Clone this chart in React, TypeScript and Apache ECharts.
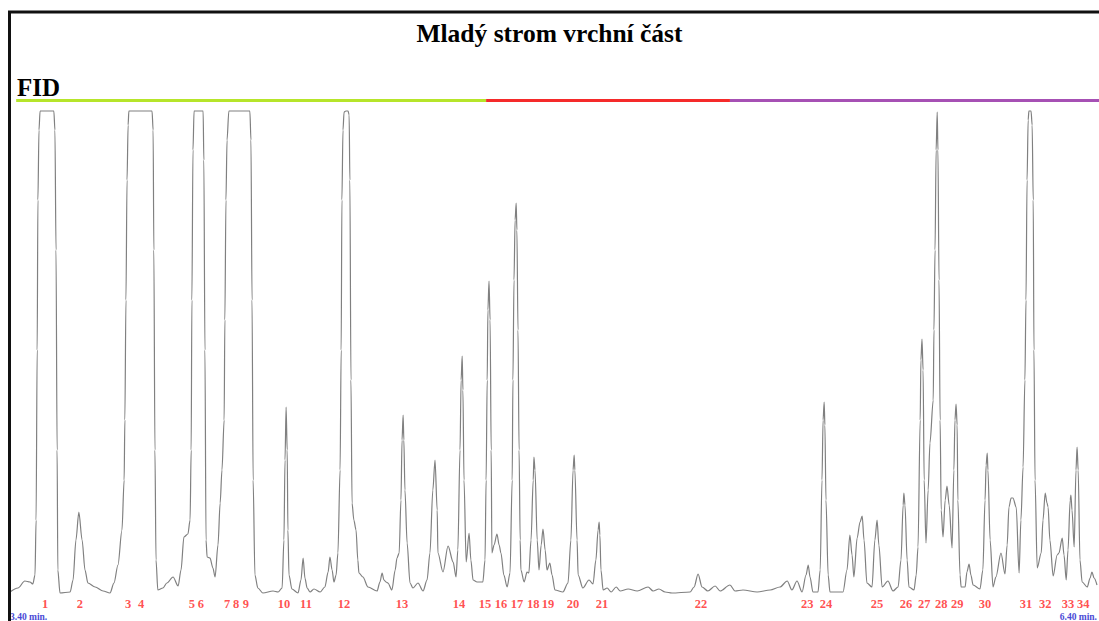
import React, { useEffect, useRef } from "react";
import * as echarts from "echarts";

// Retention time (min) of the FID trace
const traceTime = [
  3.400,3.422,3.441,3.455,3.463,3.469,3.472,3.475,3.477,3.480,
  3.483,3.521,3.524,3.527,3.530,3.532,3.538,3.566,3.574,3.582,
  3.590,3.599,3.607,3.615,3.635,3.657,3.676,3.687,3.698,3.709,
  3.715,3.717,3.720,3.723,3.726,3.728,3.792,3.795,3.797,3.800,
  3.803,3.808,3.822,3.833,3.850,3.864,3.872,3.880,3.891,3.897,
  3.900,3.902,3.905,3.908,3.933,3.935,3.938,3.941,3.944,3.952,
  3.960,3.966,3.974,3.980,3.985,3.991,3.993,3.996,3.999,4.004,
  4.062,4.065,4.068,4.071,4.076,4.084,4.098,4.126,4.140,4.151,
  4.156,4.159,4.162,4.165,4.167,4.170,4.178,4.195,4.203,4.209,
  4.214,4.220,4.228,4.239,4.256,4.269,4.278,4.283,4.289,4.294,
  4.300,4.305,4.311,4.314,4.316,4.319,4.322,4.327,4.333,4.336,
  4.338,4.341,4.344,4.349,4.355,4.360,4.363,4.374,4.388,4.413,
  4.421,4.427,4.432,4.438,4.443,4.454,4.463,4.468,4.474,4.479,
  4.482,4.485,4.487,4.490,4.496,4.504,4.512,4.526,4.540,4.551,
  4.559,4.567,4.573,4.579,4.581,4.595,4.609,4.623,4.631,4.636,
  4.642,4.645,4.648,4.650,4.653,4.659,4.667,4.672,4.678,4.689,
  4.705,4.711,4.714,4.717,4.719,4.722,4.725,4.728,4.730,4.736,
  4.744,4.750,4.755,4.763,4.772,4.780,4.786,4.788,4.791,4.794,
  4.797,4.799,4.802,4.805,4.808,4.810,4.819,4.827,4.832,4.838,
  4.844,4.846,4.849,4.855,4.860,4.866,4.871,4.877,4.882,4.890,
  4.896,4.904,4.926,4.940,4.948,4.954,4.957,4.959,4.965,4.968,
  4.981,4.998,5.009,5.017,5.023,5.026,5.028,5.031,5.037,5.048,
  5.059,5.073,5.084,5.106,5.131,5.161,5.175,5.191,5.208,5.227,
  5.277,5.288,5.299,5.310,5.326,5.346,5.360,5.387,5.401,5.423,
  5.462,5.498,5.525,5.545,5.558,5.572,5.586,5.597,5.603,5.608,
  5.616,5.630,5.636,5.641,5.644,5.647,5.649,5.652,5.658,5.663,
  5.699,5.710,5.718,5.724,5.729,5.738,5.746,5.752,5.757,5.765,
  5.779,5.787,5.793,5.798,5.807,5.823,5.837,5.851,5.859,5.865,
  5.867,5.870,5.876,5.881,5.895,5.901,5.906,5.912,5.914,5.917,
  5.920,5.923,5.928,5.934,5.939,5.948,5.950,5.953,5.956,5.959,
  5.961,5.964,5.967,5.970,5.975,5.981,5.986,5.992,6.000,6.005,
  6.008,6.011,6.014,6.016,6.022,6.025,6.036,6.041,6.047,6.052,
  6.058,6.077,6.085,6.091,6.094,6.097,6.099,6.105,6.113,6.121,
  6.135,6.146,6.152,6.157,6.163,6.168,6.177,6.185,6.190,6.196,
  6.201,6.204,6.207,6.210,6.212,6.218,6.221,6.224,6.226,6.229,
  6.235,6.246,6.251,6.257,6.262,6.265,6.270,6.279,6.290,6.295,
  6.304,6.309,6.315,6.320,6.326,6.328,6.331,6.337,6.342,6.345,
  6.348,6.353,6.359,6.373,6.381,6.386,6.392,6.400,
];

// Detector signal (arbitrary units, 482 = saturation)
const traceSignal = [
  1,5,12,11,9,18,73,243,393,463,
  482,482,463,343,143,23,0,1,13,53,
  81,53,23,10,6,2,0,10,28,63,
  113,173,293,413,468,482,482,463,343,143,
  33,3,5,10,16,7,23,56,59,73,
  143,293,443,482,482,433,243,53,36,35,
  25,16,48,90,123,173,273,393,453,482,
  482,453,293,113,18,5,0,2,1,5,
  53,133,186,143,63,18,4,0,13,35,
  15,5,1,4,1,6,21,36,23,11,
  18,40,123,243,393,463,481,482,482,478,
  413,213,90,73,63,33,20,16,6,2,
  11,20,13,11,10,3,23,35,40,93,
  153,178,153,103,50,10,5,10,2,13,
  40,103,133,83,40,21,47,31,16,43,
  143,213,237,203,113,31,60,33,13,11,
  11,33,113,213,283,312,273,143,40,48,
  59,48,40,18,6,20,113,213,313,373,
  390,363,263,143,53,23,11,21,20,53,
  113,136,123,53,23,48,64,43,23,30,
  18,3,1,10,53,123,138,123,53,18,
  5,13,9,33,63,71,58,23,3,5,
  1,6,2,4,2,6,2,4,1,0,
  1,6,19,6,2,7,2,8,2,3,
  1,3,6,12,3,12,1,18,28,16,
  1,1,23,113,173,191,168,93,18,1,
  1,23,58,38,16,55,71,77,53,10,
  6,53,73,48,6,12,2,6,33,88,
  100,88,33,6,3,18,46,173,233,254,
  223,113,50,103,150,193,263,343,443,481,
  443,313,173,83,56,93,107,88,45,123,
  173,189,168,93,18,6,6,21,29,18,
  8,4,23,93,128,140,123,53,6,16,
  40,19,48,86,95,95,86,20,73,126,
  213,293,413,473,482,482,468,393,243,113,
  25,40,73,100,90,86,53,17,38,40,
  55,38,13,43,93,98,83,46,123,146,
  123,33,11,6,15,21,15,8,
];

const peakNumbers = [
  "1","2","3","4","5","6","7","8","9","10","11","12","13","14","15","16","17",
  "18","19","20","21","22","23","24","25","26","27","28","29","30","31","32","33","34",
];
const peakTimes = [
  3.497,3.593,3.726,3.762,3.902,3.927,3.999,4.024,4.051,4.156,4.217,4.322,
  4.482,4.639,4.711,4.755,4.799,4.844,4.885,4.954,5.034,5.307,5.600,5.652,
  5.793,5.873,5.923,5.970,6.014,6.091,6.204,6.257,6.320,6.362,
];

// Time program segments shown as the coloured band at the top
const segmentBounds = [3.417, 4.714, 5.387, 6.406];
const segmentColors = ["#b6e52a", "#f52a2a", "#a650b4"];

const axisEndTimes = [3.4, 6.4];

const TITLE = "Mladý strom vrchní část";
const DETECTOR = "FID";

const SERIF = "'Liberation Serif', 'Times New Roman', serif";
const LABEL_LEVEL = -11;
const BAND_LEVEL = 492.5;

export default function App() {
  const ref = useRef<HTMLDivElement>(null);

  useEffect(() => {
    document.body.style.margin = "0";
    const chart = echarts.init(ref.current!, null, { renderer: "svg" });
    const trace = traceTime.map((t, i) => [t, traceSignal[i]]);
    const labels = peakNumbers.map((n, i) => ({ name: n, value: [peakTimes[i], LABEL_LEVEL] }));
    const bands = segmentColors.map((c, i) => ({
      type: "line",
      data: [
        [segmentBounds[i], BAND_LEVEL],
        [segmentBounds[i + 1], BAND_LEVEL],
      ],
      showSymbol: false,
      clip: false,
      silent: true,
      z: 3,
      lineStyle: { color: c, width: 3 },
    }));

    chart.setOption({
      animation: false,
      backgroundColor: "#ffffff",
      title: [
        {
          text: TITLE,
          left: "center",
          top: 15,
          textStyle: { fontFamily: SERIF, fontWeight: "bold", fontSize: 25.5, color: "#000" },
        },
        {
          text: DETECTOR,
          left: 12,
          top: 70,
          textStyle: { fontFamily: SERIF, fontWeight: "bold", fontSize: 25, color: "#000" },
        },
      ],
      grid: { left: 10, right: 2, top: 0, bottom: 10, outerBoundsMode: "none", containLabel: false },
      xAxis: {
        type: "value",
        min: 3.4,
        max: 6.4,
        axisLine: { show: false },
        axisTick: { show: false },
        splitLine: { show: false },
        axisLabel: {
          customValues: axisEndTimes,
          formatter: (v: number) => v.toFixed(2) + " min.",
          color: "#4b4bd6",
          fontFamily: SERIF,
          fontWeight: "bold",
          fontSize: 9.5,
          margin: 0.5,
          alignMinLabel: "left",
          alignMaxLabel: "right",
        },
      },
      yAxis: { type: "value", min: -18, max: 593, show: false },
      graphic: [
        {
          type: "polyline",
          shape: { points: [[9.5, 621], [9.5, 12], [1099, 12]] },
          style: { stroke: "#111", lineWidth: 3, fill: "none" },
          z: 10,
        },
      ],
      series: [
        {
          type: "line",
          data: trace,
          showSymbol: false,
          smooth: 0.3,
          smoothMonotone: "x",
          silent: true,
          lineStyle: { color: "#808080", width: 1.2 },
        },
        ...bands,
        {
          type: "scatter",
          data: labels,
          symbolSize: 0,
          silent: true,
          label: {
            show: true,
            position: "inside",
            formatter: "{b}",
            color: "#ff2424",
            fontFamily: SERIF,
            fontWeight: "bold",
            fontSize: 12.5,
          },
        },
      ],
    });
    return () => chart.dispose();
  }, []);

  return (
    <div
      ref={ref}
      style={{ position: "absolute", left: 0, top: 0, width: 1099, height: 621 }}
    />
  );
}
